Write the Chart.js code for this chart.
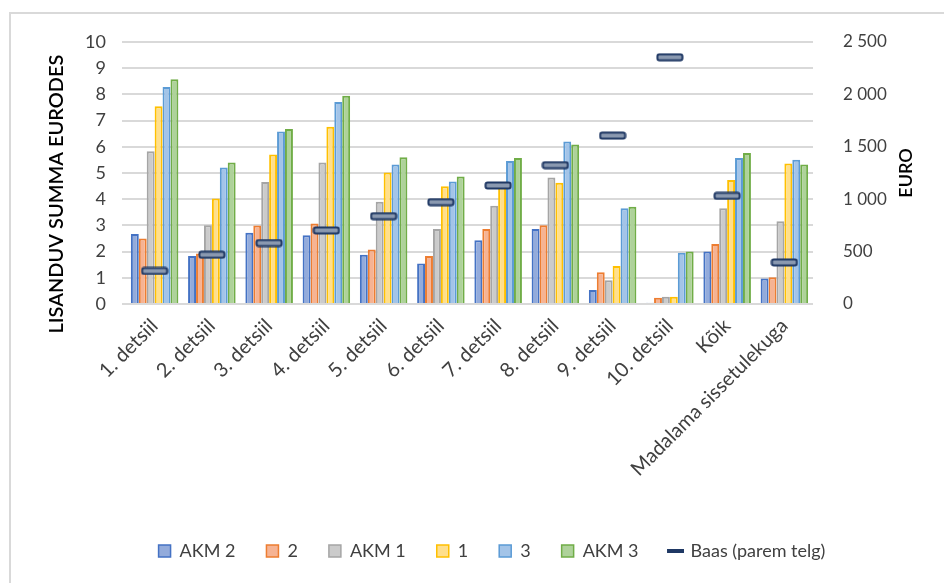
<!DOCTYPE html>
<html>
<head>
<meta charset="utf-8">
<script src="https://cdn.jsdelivr.net/npm/chart.js@4.4.1/dist/chart.umd.min.js"></script>
<style>
  html, body { margin: 0; padding: 0; background: #fff; }
  #wrap { width: 944px; height: 583px; position: relative; }
</style>
</head>
<body>
<div id="wrap"><canvas id="chart" width="944" height="583"></canvas></div>
<script>
"use strict";

// kategooriad ja andmed (loetud pildilt)
const categories = ["1. detsiil", "2. detsiil", "3. detsiil", "4. detsiil", "5. detsiil",
    "6. detsiil", "7. detsiil", "8. detsiil", "9. detsiil", "10. detsiil", "Kõik",
    "Madalama sissetulekuga"];
const akm2 = [2.67, 1.83, 2.72, 2.62, 1.88, 1.55, 2.43, 2.86, 0.53, 0.05, 2.00, 0.97];
const s2   = [2.50, 1.93, 3.00, 3.07, 2.08, 1.83, 2.86, 3.01, 1.21, 0.24, 2.29, 1.02];
const akm1 = [5.83, 3.01, 4.66, 5.40, 3.90, 2.86, 3.75, 4.83, 0.91, 0.28, 3.65, 3.16];
const s1   = [7.55, 4.03, 5.71, 6.77, 5.02, 4.49, 4.50, 4.63, 1.45, 0.28, 4.73, 5.36];
const s3   = [8.28, 5.21, 6.58, 7.71, 5.32, 4.68, 5.46, 6.20, 3.65, 1.96, 5.57, 5.51];
const akm3 = [8.58, 5.40, 6.68, 7.95, 5.60, 4.87, 5.57, 6.09, 3.71, 2.00, 5.76, 5.32];
const baas = [315, 470, 582, 702, 838, 972, 1131, 1325, 1607, 2354, 1032, 397];

const leftTicks = [0, 1, 2, 3, 4, 5, 6, 7, 8, 9, 10];
const rightTicks = [0, 500, 1000, 1500, 2000, 2500];

const FONT = "Lato, 'Open Sans', sans-serif";
const TXT = "#404040";

// Baas marker
const marker = document.createElement("canvas");
marker.width = 28;
marker.height = 9;
{
    const m = marker.getContext("2d");
    m.fillStyle = "#8A99B0";
    m.strokeStyle = "#1F3864";
    m.lineWidth = 2;
    m.beginPath();
    m.roundRect(1.5, 1.5, 25, 6, 2);
    m.fill();
    m.stroke();
}

function bar(label, data, fill, border) {
    return {
        type: "bar", label: label, data: data,
        backgroundColor: fill, borderColor: border, borderWidth: 2,
        borderSkipped: "bottom",
        yAxisID: "y", order: 1,
        categoryPercentage: 0.83, barPercentage: 1.0
    };
}

const titles = {
    id: "titles",
    beforeDraw(chart) {
        const c = chart.ctx;
        c.save();
        c.strokeStyle = "#D9D9D9";
        c.lineWidth = 2;
        c.beginPath();
        c.moveTo(10, 583);
        c.lineTo(10, 13);
        c.lineTo(944, 13);
        c.stroke();
        c.restore();
    },
    afterDraw(chart) {
        const c = chart.ctx;
        const a = chart.chartArea;
        c.save();
        c.fillStyle = "#000";
        c.font = "600 20px " + FONT;
        c.textAlign = "center";
        c.textBaseline = "middle";
        c.translate(57, 194);
        c.rotate(-Math.PI / 2);
        c.fillText("LISANDUV SUMMA EURODES", 0, 0);
        c.restore();
        c.save();
        c.fillStyle = "#000";
        c.font = "600 18px " + FONT;
        c.textAlign = "center";
        c.textBaseline = "middle";
        c.translate(906, (a.top + a.bottom) / 2);
        c.rotate(-Math.PI / 2);
        c.fillText("EURO", 0, 0);
        c.restore();
    }
};

const ctx = document.getElementById("chart").getContext("2d");
new Chart(ctx, {
    data: {
        labels: categories,
        datasets: [
            bar("AKM 2", akm2, "#93ABDB", "#4472C4"),
            bar("2", s2, "#F6B393", "#ED7D31"),
            bar("AKM 1", akm1, "#CBCBCB", "#A5A5A5"),
            bar("1", s1, "#FFDF8C", "#FFC000"),
            bar("3", s3, "#A3C4E8", "#5B9BD5"),
            bar("AKM 3", akm3, "#AED29A", "#70AD47"),
            {
                type: "line", label: "Baas (parem telg)", data: baas,
                yAxisID: "y1", showLine: false, order: 0,
                pointStyle: marker, pointRadius: 10, pointHoverRadius: 10,
                borderColor: "#1F3864", backgroundColor: "#1F3864"
            }
        ]
    },
    options: {
        responsive: false,
        animation: false,
        layout: { padding: { top: 42, left: 40, right: 0, bottom: 13 } },
        plugins: {
            tooltip: { enabled: false },
            legend: {
                position: "bottom",
                labels: {
                    font: { family: FONT, size: 18 },
                    color: TXT,
                    usePointStyle: true,
                    boxWidth: 12,
                    boxHeight: 12,
                    padding: 31,
                    sort: (a, b) => a.datasetIndex - b.datasetIndex,
                    generateLabels(chart) {
                        return chart.data.datasets.map((ds, i) => ({
                            text: ds.label,
                            datasetIndex: i,
                            fontColor: TXT,
                            fillStyle: ds.type === "line" ? "#1F3864" : ds.backgroundColor,
                            strokeStyle: ds.type === "line" ? "#1F3864" : ds.borderColor,
                            lineWidth: ds.type === "line" ? 4 : 1.5,
                            pointStyle: ds.type === "line" ? "line" : "rect",
                            hidden: false
                        }));
                    }
                }
            }
        },
        scales: {
            x: {
                grid: { display: false },
                border: { display: false },
                ticks: {
                    font: { family: FONT, size: 20 },
                    color: TXT,
                    minRotation: 45,
                    maxRotation: 45,
                    autoSkip: false,
                    padding: 2
                },
                afterFit(s) { s.height = 207; }
            },
            y: {
                position: "left",
                min: 0, max: 10,
                afterBuildTicks(s) { s.ticks = leftTicks.map(v => ({ value: v })); },
                grid: { color: "#D9D9D9", lineWidth: 2, tickLength: 4, drawTicks: true },
                border: { display: false },
                ticks: { font: { family: FONT, size: 18 }, color: TXT, padding: 16 },
                afterFit(s) { s.width = 86; }
            },
            y1: {
                position: "right",
                min: 0, max: 2500,
                afterBuildTicks(s) { s.ticks = rightTicks.map(v => ({ value: v })); },
                grid: { display: false },
                border: { display: false },
                ticks: {
                    font: { family: FONT, size: 17 }, color: TXT, padding: 22,
                    callback: v => String(v).replace(/\B(?=(\d{3})+(?!\d))/g, " ")
                },
                afterFit(s) { s.width = 131; }
            }
        }
    },
    plugins: [titles]
});
</script>
</body>
</html>
